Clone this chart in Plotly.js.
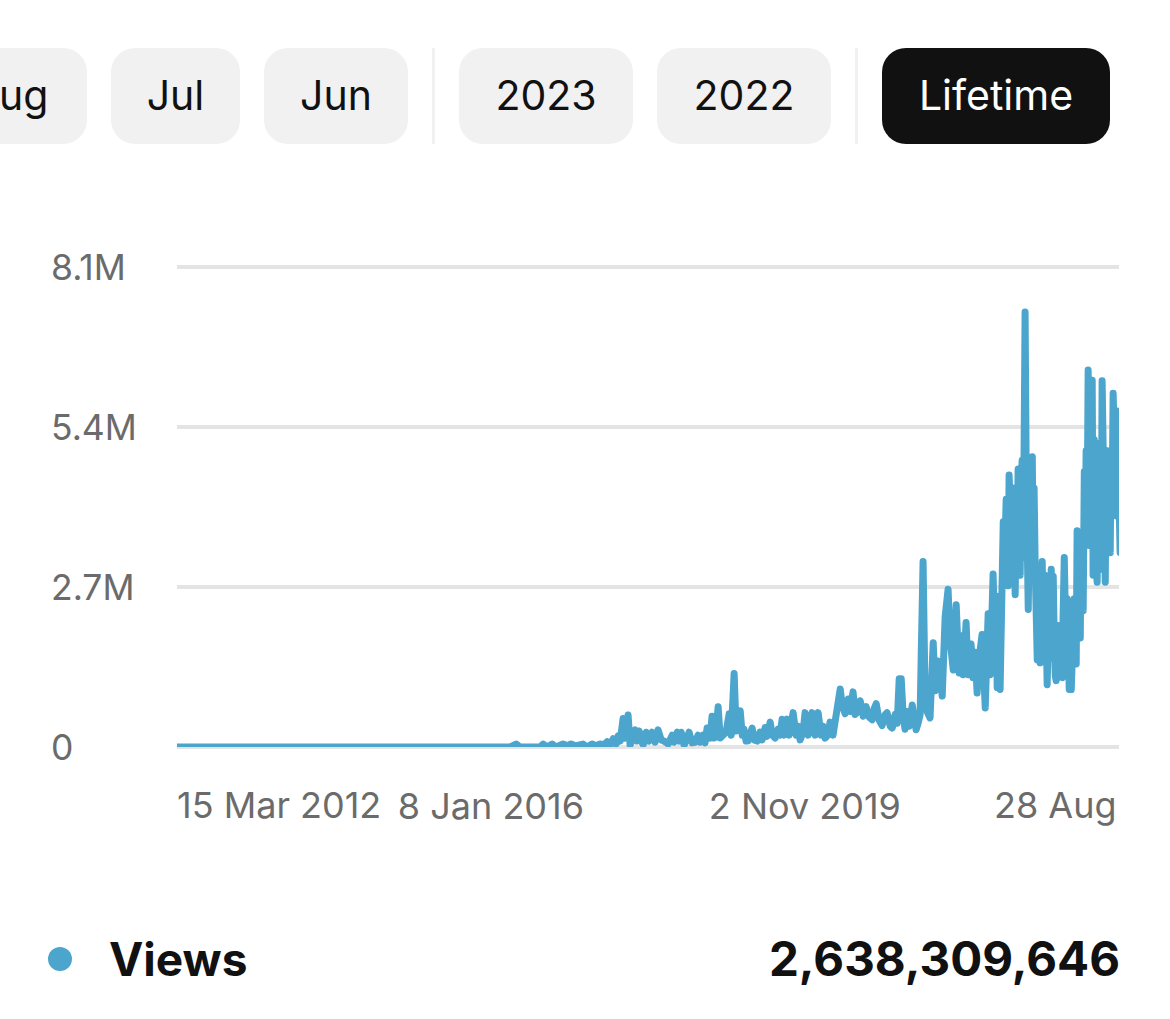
<html>
<head>
<script src="https://cdn.plot.ly/plotly-3.0.1.min.js"></script>
<style>
  body { margin: 0; background: #fff; font-family: Inter, sans-serif; overflow: hidden; }
  #chart { position: absolute; left: 0; top: 0; width: 1170px; height: 1019px; }
  #chart path.js-line { stroke-linejoin: round; stroke-linecap: round; }
  .tab { position: absolute; top: 48px; height: 94px; line-height: 94px; padding-bottom: 2px; text-align: center;
         background: #f1f1f1; border-radius: 24px; color: #111; font-size: 41px; }
  .tab.on { background: #111; color: #fff; }
  .sep { position: absolute; top: 48px; width: 3px; height: 96px; background: #f1f1f1; }
  .legend { position: absolute; top: 930px; height: 58px; line-height: 58px; font-weight: 700; color: #111; }
  .dot { position: absolute; left: 48px; top: 947px; width: 24px; height: 24px; border-radius: 50%; background: #4ba5cc; }
</style>
</head>
<body>
<div id="chart"></div>
<div class="tab" style="left:-68px;width:155px">Aug</div>
<div class="tab" style="left:111px;width:129px">Jul</div>
<div class="tab" style="left:264px;width:144px">Jun</div>
<div class="sep" style="left:432px"></div>
<div class="tab" style="left:459px;width:174px">2023</div>
<div class="tab" style="left:657px;width:174px">2022</div>
<div class="sep" style="left:855px"></div>
<div class="tab on" style="left:882px;width:228px">Lifetime</div>
<div class="dot"></div>
<div class="legend" style="left:109px;font-size:46px">Views</div>
<div class="legend" style="right:50px;font-size:47.5px">2,638,309,646</div>
<script>
// days since the first date on the axis, and views (millions)
const startDate = "2012-03-15";
const days = [0,1479,1506,1523,1612,1626,1643,1666,1683,1714,1732,1750,1768,1785,1803,1821,1843,1861,1879,1897,1910,1923,1937,1950,1959,1968,1981,1990,2003,2012,2025,2034,2043,2052,2061,2070,2083,2096,2110,2123,2136,2150,2163,2181,2199,2207,2221,2230,2239,2252,2261,2274,2287,2301,2314,2323,2336,2345,2354,2367,2376,2385,2394,2403,2412,2425,2438,2452,2461,2474,2483,2492,2501,2510,2518,2527,2536,2554,2563,2576,2589,2598,2612,2620,2634,2643,2656,2669,2678,2687,2696,2709,2718,2727,2736,2749,2758,2767,2780,2789,2803,2820,2834,2847,2860,2869,2878,2891,2900,2913,2922,2931,2945,2954,2967,2981,2990,3002,3011,3025,3034,3047,3060,3074,3087,3096,3105,3118,3131,3145,3153,3167,3176,3189,3198,3207,3216,3225,3233,3242,3251,3265,3273,3282,3291,3300,3305,3313,3322,3331,3344,3349,3358,3367,3380,3389,3398,3411,3424,3433,3447,3460,3473,3478,3491,3504,3513,3526,3535,3544,3553,3562,3575,3589,3593,3602,3611,3624,3633,3638,3642,3651,3655,3660,
  3669,3673,3678,3682,3687,3691,3695,3700,3704,3709,3713,3718,3722,3727,3731,3735,3740,3744,3749,3753,3758,3762,3766,3771,3775,3780,3784,3789,3793,3798,3802,3806,3811,3815,
  3820,3824,3829,3833,3838,3842,3846,3851,3855,3860,3864,3869,3873,3878,3882,3886,3891,3895,3900,3904,3909,3913,3918,3922,3926,3931,3935,3940,3944,3949,3953,3958,3962,3966,3971,3975,3980,3984,3989,3993,3997,4002,4006,4011,4015,4020,4024,
  4029,4033,4037,4042,4046,4051,4055,4060,4064,4068,4073,4077,4082,4086,4091,4095,4100,4104,4108,4113,4117,4122,4126,4131,4135,4139,4144,4148,4153,4157,4162,4166,4171,4175,4179,4184,4188];
const views = [0,0,.05,0,0,.05,0,.05,0,.05,.02,.05,.02,.05,.05,0,.05,.02,.05,.04,.09,.03,.14,.05,.19,.1,.48,.15,.54,.03,.2,.29,.1,.27,.1,.04,.25,.1,.25,.08,.29,.12,.1,.05,.2,.08,.25,.1,.25,.03,.12,.25,.07,.08,.2,.08,.2,.07,.32,.15,.52,.15,.3,.68,.15,.2,.25,.56,.2,1.24,.27,.5,.61,.2,.3,.1,.1,.32,.12,.1,.25,.12,.33,.18,.42,.2,.15,.3,.2,.47,.2,.47,.2,.4,.58,.2,.35,.12,.25,.58,.2,.58,.2,.58,.2,.35,.15,.2,.42,.2,.42,.6,.98,.7,.56,.81,.6,.93,.55,.6,.78,.52,.68,.5,.46,.65,.73,.45,.36,.55,.58,.35,.32,.55,.4,1.15,1.15,.5,.3,.6,.35,.71,.4,.29,.4,.55,1.6,3.13,.8,.6,.49,1.3,1.76,.95,1.45,1.2,.86,2.2,2.66,1.8,1.3,2.4,1.25,1.88,1.22,2.1,1.22,1.74,1.17,1.6,.91,1.5,1.9,.66,1.3,2.25,1.22,2.92,1.5,2.55,1,1.9,.97,2,
  3.8,2.9,4.06,4.18,3.2,2.72,4.59,3.6,4.3,3.1,4.37,3.4,2.57,4,3.3,4.69,3.6,2.9,4.5,4.84,3.2,4.9,7.34,4.6,3.5,2.32,3.6,4.4,3.4,4.9,3,4.37,3,2.2,
  1.47,2.2,2.9,1.42,2.5,3.13,2.2,1.6,2.9,1.9,1.05,1.9,2.4,1.5,3,1.5,2.88,1.9,1.2,1.12,1.6,2.05,1.6,2,1.5,1.17,2.25,3.2,2.4,1.8,2.5,1.6,.97,1.5,.97,2.13,1.6,2.5,2,1.4,3.65,2.6,3.6,1.84,3.6,2.7,2.3,
  4.65,3.4,5,4,6.36,3.4,3.5,5,6.19,2.9,5.19,3.8,3,2.78,4.9,3.6,5.13,3,6.18,4.6,4,2.78,4.9,5,4,3.5,3.28,5,4.4,5.97,5,4.2,3.9,5.67,4.84,3.8,3.28];
const yTicks = [0, 2.7, 5.4, 8.1];
const yLabels = ["0", "2.7M", "5.4M", "8.1M"];
const xTickDates = ["2012-03-15", "2016-01-08", "2019-11-02", "2023-08-28"];
const xTickLabels = ["15 Mar 2012", "8 Jan 2016", "2 Nov 2019", "28 Aug"];

const blue = "#4ba5cc";
const grey = "#6b6b6b";
const gridGrey = "#e4e4e4";
const yFont = { family: "Inter, sans-serif", size: 35.5, color: grey };
const xFont = { family: "Inter, sans-serif", size: 36, color: grey };
const W = 1170, H = 1019, L = 177, R = 1119, T = 265, B = 747;

const t0 = Date.parse(startDate);
const dates = days.map(d => new Date(t0 + d * 864e5).toISOString().slice(0, 10));

let annotations = yTicks.map((v, i) => ({
  text: yLabels[i], font: yFont, showarrow: false,
  xref: "paper", x: (52 - L) / (R - L), xanchor: "left", xshift: -3,
  yref: "y", y: v, yanchor: "middle", yshift: 0
}));
// the first and last date labels sit inside the plot edges
annotations.push({ text: xTickLabels[0], font: xFont, showarrow: false,
  xref: "paper", x: 0, xanchor: "left", xshift: -2, yref: "paper", y: 0, yanchor: "middle", yshift: -58 });
annotations.push({ text: xTickLabels[3], font: xFont, showarrow: false,
  xref: "paper", x: 1, xanchor: "right", xshift: 0, yref: "paper", y: 0, yanchor: "middle", yshift: -58 });

Plotly.newPlot("chart", [{
  x: dates, y: views, type: "scatter", mode: "lines",
  line: { color: blue, width: 7 }, hoverinfo: "skip"
}], {
  width: W, height: H,
  margin: { l: L, r: W - R, t: T, b: H - B, pad: 0 },
  paper_bgcolor: "rgba(0,0,0,0)", plot_bgcolor: "rgba(0,0,0,0)",
  showlegend: false,
  xaxis: {
    type: "date", range: [xTickDates[0], xTickDates[3]],
    tickmode: "array", tickvals: xTickDates.slice(1, 3), ticktext: xTickLabels.slice(1, 3),
    tickfont: xFont, ticklabelstandoff: 35, showgrid: false, zeroline: false, showline: false, ticks: "", ticklen: 0
  },
  yaxis: {
    // a bit of headroom, plotly drops a gridline sitting on the range end
    range: [0, 8.134], tickmode: "array", tickvals: yTicks, showticklabels: false,
    gridcolor: gridGrey, gridwidth: 4, zeroline: false, showline: false, ticks: ""
  },
  // the base gridline is dropped too, but the line has to clip at zero, so it is a shape
  shapes: [{ type: "line", xref: "paper", yref: "paper", x0: 0, x1: 1, y0: 0, y1: 0, layer: "below",
             line: { color: gridGrey, width: 4 } }],
  annotations: annotations
}, { displayModeBar: false, staticPlot: true });
</script>
</body>
</html>
